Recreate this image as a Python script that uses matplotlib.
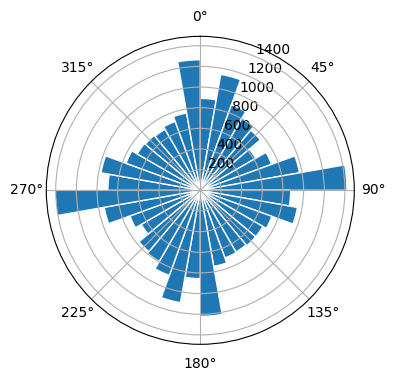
import numpy as np
import matplotlib as mpl
mpl.use('Agg')
import matplotlib.pyplot as plt

# bin centres (degrees, clockwise from north) and counts per 10 degree bin
directions = [5, 15, 25, 35, 45, 55, 65, 75, 85,
              95, 105, 115, 125, 135, 145, 155, 165, 175,
              185, 195, 205, 215, 225, 235, 245, 255, 265,
              275, 285, 295, 305, 315, 325, 335, 345, 355]
counts = [890, 1140, 880, 810, 760, 620, 735, 975, 1420,
          875, 955, 738, 700, 700, 690, 696, 748, 1220,
          855, 1105, 877, 796, 775, 660, 725, 945, 1405,
          895, 976, 765, 705, 695, 683, 710, 760, 1264]
bin_width = 10


def main():
    fig = plt.figure(figsize=(3.96, 3.8), dpi=100)
    ax = fig.add_axes([0.1169, 0.0939, 0.7778, 0.8105], projection='polar')
    ax.set_theta_zero_location('N')
    ax.set_theta_direction(-1)

    theta = np.deg2rad(directions)
    ax.bar(theta, counts, width=np.deg2rad(bin_width), bottom=0.0,
           color='C0', edgecolor='white', linewidth=1)

    fig.savefig('out.png', dpi=100)


if __name__ == '__main__':
    main()
